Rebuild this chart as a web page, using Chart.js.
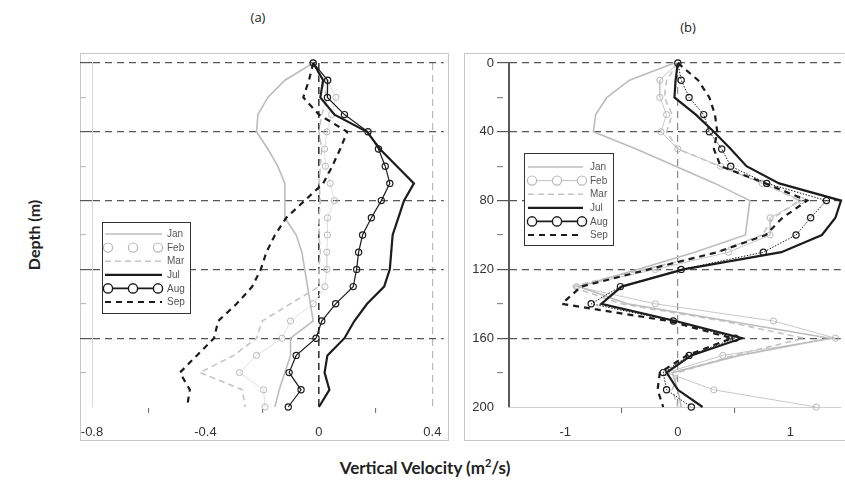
<!DOCTYPE html>
<html><head><meta charset="utf-8">
<script src="https://cdn.jsdelivr.net/npm/chart.js@4.4.1/dist/chart.umd.min.js"></script>
<style>
body{margin:0;width:845px;height:490px;background:#fff;position:relative;overflow:hidden;font-family:"Liberation Sans",Arial,sans-serif}
.frame{position:absolute;border:1.5px solid #c8c8c8;box-sizing:border-box}
.wrap{position:absolute}
.t{position:absolute;color:#222;white-space:nowrap;transform:translate(-50%,-50%)}
</style></head><body>
<div class="frame" style="left:80px;top:53px;width:369px;height:388px"></div>
<div class="frame" style="left:464px;top:53px;width:400px;height:388px"></div>
<div class="wrap" style="left:80px;top:53px;width:368px;height:387px"><canvas id="ca" width="368" height="387"></canvas></div>
<div class="wrap" style="left:465px;top:53px;width:380px;height:387px"><canvas id="cb" width="380" height="387"></canvas></div>
<div class="t" style="left:258px;top:17px;font-size:13px;font-family:'Open Sans'">(a)</div>
<div class="t" style="left:688px;top:27px;font-size:13px;font-family:'Open Sans'">(b)</div>
<div class="t" style="left:33px;top:235px;transform:translate(-50%,-50%) rotate(-90deg);font-size:16px;font-weight:bold;font-family:Lato">Depth (m)</div>
<div class="t" style="left:425px;top:467px;font-size:17px;font-weight:bold;font-family:Lato">Vertical Velocity (m<sup style="font-size:11px">2</sup>/s)</div>
<script>
// ---- data ----
const depth = [0,10,20,30,40,50,60,70,80,90,100,110,120,130,140,150,160,170,180,190,200];
const months = ['Jan','Feb','Mar','Jul','Aug','Sep'];
// panel (a)
const aJan = [-0.02,-0.12,-0.18,-0.215,-0.22,-0.18,-0.145,-0.12,-0.12,-0.12,-0.08,-0.06,-0.05,-0.04,-0.03,-0.02,-0.10,-0.10,-0.12,-0.14,-0.155];
const aFeb = [-0.02,0.03,0.06,0.045,0.028,0.02,0.023,0.04,0.055,0.03,0.03,0.028,0.028,0.021,-0.02,-0.10,-0.13,-0.22,-0.28,-0.195,-0.19];
const aMar = [-0.02,0.01,0.03,0.01,0.0,0.01,0.005,0.0,0.005,0.0,0.0,0.005,0.0,0.0,-0.1,-0.2,-0.22,-0.3,-0.42,-0.27,-0.26];
const aJul = [-0.02,0.015,0.005,0.055,0.17,0.215,0.275,0.335,0.30,0.28,0.26,0.255,0.25,0.23,0.17,0.125,0.09,0.03,0.02,0.037,0.0];
const aAug = [-0.02,0.031,0.03,0.09,0.173,0.21,0.234,0.25,0.22,0.185,0.154,0.14,0.133,0.121,0.059,0.01,-0.01,-0.08,-0.105,-0.063,-0.108];
const aSep = [-0.02,-0.035,-0.055,0.0,0.10,0.075,0.047,0.015,-0.05,-0.115,-0.155,-0.185,-0.205,-0.235,-0.29,-0.355,-0.37,-0.43,-0.49,-0.455,-0.465];
// panel (b)
const bJan = [-0.03,-0.43,-0.63,-0.73,-0.75,-0.37,-0.02,0.33,0.64,0.62,0.6,0.15,-0.36,-0.88,-0.45,0.45,1.35,0.55,-0.05,0.0,0.03];
const bFeb = [0,-0.16,-0.16,-0.1,-0.15,0.0,0.38,0.75,1.1,0.82,0.82,0.45,-0.2,-0.9,-0.2,0.85,1.4,0.4,-0.1,0.32,1.23];
const bMar = [0,-0.1,-0.12,-0.05,-0.1,0.0,0.37,0.76,1.08,0.85,0.75,0.35,-0.3,-0.95,-0.5,0.4,1.12,0.5,0.0,-0.05,0.0];
const bJul = [0,-0.02,-0.03,0.16,0.32,0.47,0.61,0.9,1.45,1.4,1.28,0.92,0.05,-0.5,-0.68,-0.02,0.57,0.12,-0.1,0.0,0.22];
const bAug = [0,0.03,0.10,0.23,0.28,0.39,0.47,0.79,1.32,1.18,1.05,0.76,0.03,-0.51,-0.77,-0.04,0.51,0.10,-0.13,-0.10,0.12];
const bSep = [0,0.18,0.28,0.33,0.35,0.32,0.38,0.78,1.15,0.93,0.78,0.35,-0.26,-0.86,-1.03,-0.08,0.48,0.08,-0.16,-0.18,-0.13];
// ticks
const yTickVals = [0,20,40,60,80,100,120,140,160,180,200];
const yTickLabels = ['0','','40','','80','','120','','160','','200'];
const aXTickVals = [-0.8,-0.6,-0.4,-0.2,0,0.2,0.4];
const aXTickLabels = ['-0.8','','-0.4','','0','','0.4'];
const bXTickVals = [-1,-0.5,0,0.5,1];
const bXTickLabels = ['-1','','0','','1'];

// ---- helpers ----
const pts = vals => vals.map((v,i)=>({x:v,y:depth[i]}));
const TF = "'Liberation Sans', Arial, sans-serif";

function makeSets(series, panel){
  const [jan,feb,mar,jul,aug,sep] = series;
  const base = {showLine:true, fill:false, tension:0, clip:false, pointHoverRadius:0};
  return [
    {...base,label:'Jan',data:pts(jan),borderColor:'#bcbcbc',borderWidth:1.6,pointRadius:0,order:2},
    {...base,label:'Feb',data:pts(feb),borderColor:panel==='a'?'#e0e0e0':'#c8c8c8',borderWidth:1,
      pointRadius:3.1,pointBorderColor:'#b8b8b8',pointBackgroundColor:'rgba(255,255,255,0)',pointBorderWidth:1,order:2},
    {...base,label:'Mar',data:pts(mar),borderColor:'#c4c4c4',borderWidth:1.6,borderDash:[6,4],pointRadius:0,order:2},
    {...base,label:'Jul',data:pts(jul),borderColor:'#1c1c1c',borderWidth:2.2,pointRadius:0,order:1},
    {...base,label:'Aug',data:pts(aug),borderColor:'#1c1c1c',borderWidth:panel==='a'?1.2:1,borderDash:panel==='a'?[]:[1.5,1.5],
      pointRadius:3.1,pointBorderColor:'#1c1c1c',pointBackgroundColor:'rgba(255,255,255,0)',pointBorderWidth:1.2,order:1,
      legendDash:[],legendWidth:1.6},
    {...base,label:'Sep',data:pts(sep),borderColor:'#1c1c1c',borderWidth:2.2,borderDash:[6,5],pointRadius:0,order:1}
  ];
}

const boxLegend = {id:'boxLegend', afterDatasetsDraw(chart, args, o){
  const ctx = chart.ctx; ctx.save();
  ctx.fillStyle='#fff'; ctx.fillRect(o.x,o.y,o.w,o.h);
  ctx.strokeStyle='#333'; ctx.lineWidth=1; ctx.setLineDash([]);
  ctx.strokeRect(o.x+0.5,o.y+0.5,o.w,o.h);
  chart.data.datasets.forEach((ds,i)=>{
    const y = o.y0 + i*o.dy;
    if(!(o.noLine||[]).includes(ds.label)){
      ctx.beginPath();
      ctx.setLineDash(ds.legendDash || ds.borderDash || []);
      ctx.strokeStyle = ds.label==='Feb' ? '#c0c0c0' : ds.borderColor;
      ctx.lineWidth = ds.legendWidth || ds.borderWidth;
      ctx.moveTo(o.sx1,y); ctx.lineTo(o.sx2,y); ctx.stroke();
      ctx.setLineDash([]);
    }
    if(ds.pointRadius>0){
      o.px.forEach(px=>{
        ctx.beginPath(); ctx.arc(px,y,o.r,0,Math.PI*2);
        ctx.fillStyle='#fff'; ctx.fill();
        ctx.strokeStyle=ds.pointBorderColor; ctx.lineWidth=ds.pointBorderWidth+0.2; ctx.stroke();
      });
    }
    ctx.fillStyle='#555'; ctx.font='10px '+TF; ctx.textBaseline='middle'; ctx.textAlign='left';
    ctx.fillText(ds.label, o.tx, y+0.5);
  });
  ctx.restore();
}};

function yScale(panel){
  return {
    type:'linear', reverse:true, min:0, max:200,
    afterBuildTicks(s){ s.ticks = yTickVals.map(v=>({value:v})); },
    afterFit(s){ s.width = panel==='a' ? 12 : 44; s.paddingTop=0; s.paddingBottom=0; },
    ticks:{display:panel==='b', autoSkip:false, padding:3, color:'#333', font:{size:13,family:TF},
      callback:(v,i)=>yTickLabels[i]},
    grid:{
      color:c=>{const i=c.index; return (yTickLabels[i]!=='' && yTickVals[i]<200)?'#555':'rgba(0,0,0,0)';},
      lineWidth:1.2, tickLength:12,
      tickBorderDash:c=>yTickLabels[c.index]===''?[6,60]:[],
      tickColor:c=>{const i=c.index; if(yTickVals[i]>=200) return 'rgba(0,0,0,0)'; return yTickLabels[i]!==''?'#555':(panel==='a'?'#bdbdbd':'#888');},
      tickWidth:1.2
    },
    border:{display:true, color:panel==='a'?'#d8d8d8':'#5a5a5a', width:panel==='a'?1:2, dash:[7,5]}
  };
}

function xScale(panel){
  const vals = panel==='a'?aXTickVals:bXTickVals;
  const labs = panel==='a'?aXTickLabels:bXTickLabels;
  return {
    type:'linear', min:panel==='a'?-0.8:-1.5, max:panel==='a'?0.44:1.447,
    afterBuildTicks(s){ s.ticks = vals.map(v=>({value:v})); },
    afterFit(s){ s.height = 33; s.paddingLeft=0; s.paddingRight=0; },
    ticks:{autoSkip:false, maxRotation:0, minRotation:0, padding:12, color:'#333', font:{size:13,family:TF},
      callback:(v,i)=>labs[i]},
    grid:{
      color:c=>{const v=vals[c.index];
        if(Math.abs(v)<1e-9) return panel==='a'?'#3a3a3a':'#8a8a8a';
        if(panel==='a' && Math.abs(v-0.4)<1e-9) return '#b8b8b8';
        return 'rgba(0,0,0,0)';},
      lineWidth:c=>{const v=vals[c.index]; return (panel==='a'&&Math.abs(v)<1e-9)?1.6:1.2;},
      tickLength:6, tickBorderDash:[],
      tickColor:c=>labs[c.index]===''?'#666':'rgba(0,0,0,0)', tickWidth:1
    },
    border:{display:true, color:panel==='a'?'rgba(0,0,0,0)':'#d0d0d0', width:1, dash:[7,5]}
  };
}

function makeChart(id, panel, series, legendOpts){
  return new Chart(document.getElementById(id), {
    type:'scatter',
    data:{datasets:makeSets(series, panel)},
    options:{
      responsive:false, animation:false, devicePixelRatio:1,
      layout:{padding:{top:10,left:0,right:panel==='a'?1:0,bottom:0}},
      scales:{x:xScale(panel), y:yScale(panel)},
      plugins:{legend:{display:false}, tooltip:{enabled:false}, boxLegend:legendOpts}
    },
    plugins:[boxLegend]
  });
}

makeChart('ca','a',[aJan,aFeb,aMar,aJul,aAug,aSep],
  {x:22,y:169,w:88,h:91,y0:181,dy:13.6,sx1:25,sx2:82,px:[28,53,78],r:4.6,tx:87,noLine:['Feb']});
makeChart('cb','b',[bJan,bFeb,bMar,bJul,bAug,bSep],
  {x:59,y:100,w:89,h:92,y0:114,dy:13.6,sx1:63,sx2:118,px:[67,92,117],r:4.6,tx:125,noLine:[]});
</script>
</body></html>
